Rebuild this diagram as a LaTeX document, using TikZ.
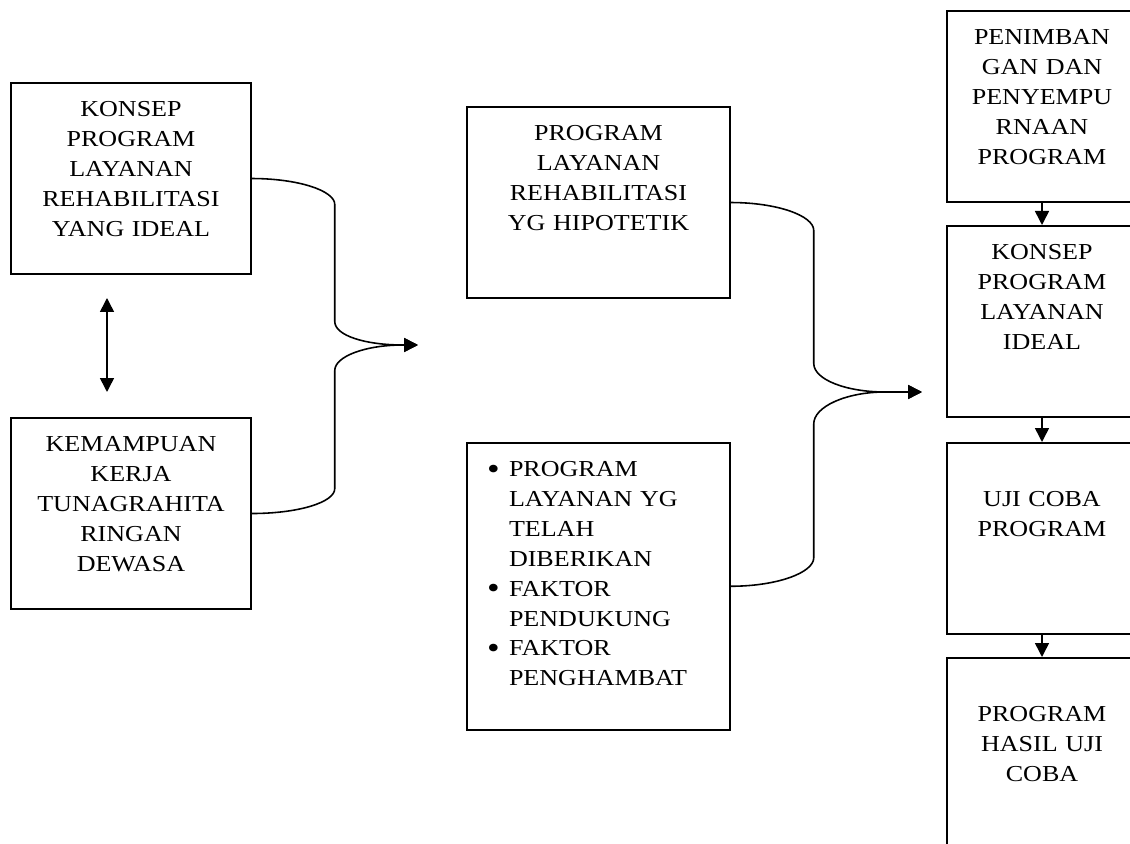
\documentclass[tikz,border=0pt]{standalone}
\usepackage{fontspec}
\setmainfont{Liberation Serif}[FakeStretch=1.14]
\usepackage{graphicx}
\usetikzlibrary{arrows.meta}
\newcommand{\bul}{\makebox[0.44cm][l]{\raisebox{-1.5pt}{\fontsize{18}{17}\selectfont\textbullet}}}

\begin{document}
\begin{tikzpicture}[x=0.02cm,y=-0.02cm,line width=0.9pt,
    font=\fontsize{13}{17}\selectfont,
    >={Triangle[length=0.28cm,width=0.28cm]},
    box/.style={draw,anchor=north,align=center,inner xsep=0.1cm,inner ysep=0pt,
        text height=0.68cm,text depth=3.15cm}]
    \useasboundingbox (0,0) rectangle (1130,844);
    % left column
    \node[box,text width=4.6cm] (kpl) at (131,82) {KONSEP\\PROGRAM\\LAYANAN\\REHABILITASI\\YANG IDEAL};
    \node[box,text width=4.6cm] (kkt) at (131,417) {KEMAMPUAN\\KERJA\\TUNAGRAHITA\\RINGAN\\DEWASA};
    \coordinate (a1) at (107,298);\coordinate (a2) at (107,392);
    \draw[<->] (a1)--(a2);
    % middle column
    \node[box,text width=5.06cm] (hip) at (598.5,106) {PROGRAM\\LAYANAN\\REHABILITASI\\YG HIPOTETIK};
    \node[box,text width=5.06cm,align=left,text depth=5.06cm] (fak) at (598.5,442)
        {\hspace*{0.3cm}\bul PROGRAM\\
         \hspace*{0.74cm}LAYANAN YG\\
         \hspace*{0.74cm}TELAH\\
         \hspace*{0.74cm}DIBERIKAN\\
         \hspace*{0.3cm}\bul FAKTOR\\
         \hspace*{0.74cm}PENDUKUNG\\
         \hspace*{0.3cm}\bul FAKTOR\\
         \hspace*{0.74cm}PENGHAMBAT};
    % right column
    \node[box,text width=3.6cm] (pen) at (1042,10) {PENIMBAN\\GAN DAN\\PENYEMPU\\RNAAN\\PROGRAM};
    \node[box,text width=3.6cm] (kpi) at (1042,225) {KONSEP\\PROGRAM\\LAYANAN\\IDEAL};
    \node[box,text width=3.6cm] (uji) at (1042,442) {\mbox{}\\UJI COBA\\PROGRAM};
    \node[box,text width=3.6cm] (hsl) at (1042,657) {\mbox{}\\PROGRAM\\HASIL UJI\\COBA};
    \draw[->] (pen.south)--(kpi.north);
    \draw[->] (kpi.south)--(uji.north);
    \draw[->] (uji.south)--(hsl.north);
    % braces
    \coordinate (j1) at (403,345);\coordinate (t1) at (418,345);
    \draw[->] (kpl.east) .. controls +(46,0) and +(0,-14) .. ++(83,26) -- ++(0,117)
        .. controls +(0,14) and +(-38,0) .. (j1) -- (t1);
    \draw[->] (kkt.east) .. controls +(46,0) and +(0,14) .. ++(83,-25) -- ++(0,-118)
        .. controls +(0,-14) and +(-38,0) .. (j1) -- (t1);
    \coordinate (j2) at (885,392);\coordinate (t2) at (922,392);
    \draw[->] (hip.east) .. controls +(46,0) and +(0,-15) .. ++(83,28) -- ++(0,133)
        .. controls +(0,16) and +(-39,0) .. (j2) -- (t2);
    \draw[->] (fak.east) .. controls +(46,0) and +(0,15) .. ++(83,-28.5) -- ++(0,-134)
        .. controls +(0,-17) and +(-39,0) .. (j2) -- (t2);
\end{tikzpicture}
\end{document}
